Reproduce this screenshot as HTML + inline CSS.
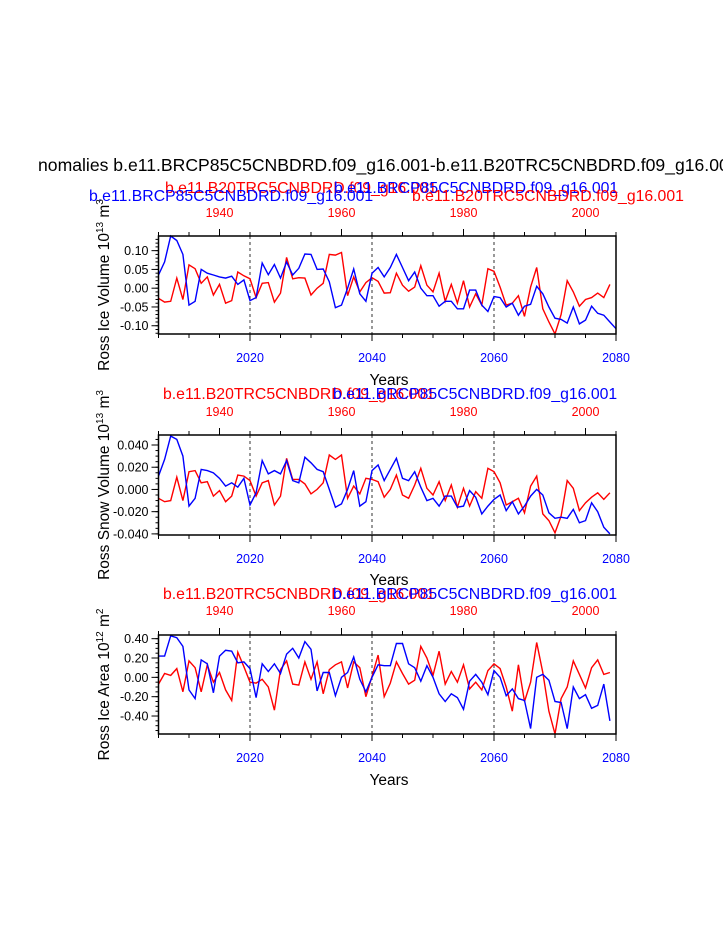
<!DOCTYPE html>
<html><head><meta charset="utf-8">
<style>
html,body{margin:0;padding:0;background:#fff;overflow:hidden;}
svg{display:block;font-family:"Liberation Sans",Arial,sans-serif;}
</style></head>
<body>
<svg id="chart" width="723" height="935" viewBox="0 0 723 935" xmlns="http://www.w3.org/2000/svg">
<text x="38" y="171" font-size="17.6" fill="#000">nomalies b.e11.BRCP85C5CNBDRD.f09_g16.001-b.e11.B20TRC5CNBDRD.f09_g16.001</text>
</svg>
<script>
const years = [2005, 2080];
const redYears = [1930, 2005];
const iceVolBlue = [0.035,0.07,0.139,0.127,0.09,-0.045,-0.035,0.05,0.04,0.035,0.03,0.027,0.032,0.01,0.022,-0.033,-0.025,0.067,0.036,0.063,0.027,0.07,0.035,0.053,0.091,0.09,0.05,0.051,0.017,-0.052,-0.045,0.0,0.051,-0.015,-0.035,0.04,0.055,0.03,0.055,0.09,0.055,0.02,0.043,0.0,-0.02,-0.02,-0.048,-0.035,-0.035,-0.055,-0.055,-0.005,-0.005,-0.045,-0.062,-0.022,-0.025,-0.05,-0.04,-0.072,-0.048,-0.043,0.005,-0.015,-0.05,-0.08,-0.083,-0.093,-0.05,-0.095,-0.085,-0.048,-0.067,-0.072,-0.09,-0.108];
const iceVolRed = [-0.027,-0.037,-0.035,0.027,-0.03,0.062,0.052,0.013,0.03,-0.018,0.01,-0.04,-0.033,0.043,0.033,0.025,-0.025,0.013,0.015,-0.037,-0.013,0.082,0.025,0.028,0.027,-0.018,0.0,0.013,0.09,0.088,0.095,-0.02,0.03,-0.01,0.015,0.028,0.018,-0.013,-0.012,0.04,0.008,-0.008,0.003,0.06,0.008,-0.01,0.04,-0.035,0.01,-0.04,0.02,-0.05,-0.015,-0.045,0.052,0.045,0.003,-0.045,-0.04,-0.02,-0.075,0.003,0.055,-0.055,-0.09,-0.125,-0.07,0.02,-0.01,-0.048,-0.03,-0.025,-0.013,-0.025,0.01];
const snowBlue = [0.012,0.027,0.048,0.045,0.03,-0.015,-0.008,0.018,0.017,0.015,0.01,0.003,0.006,0.002,0.01,-0.014,-0.003,0.026,0.014,0.017,0.014,0.026,0.008,0.006,0.029,0.024,0.018,0.016,0.0,-0.016,-0.013,0.0,0.017,-0.015,-0.011,0.017,0.022,0.008,0.018,0.028,0.01,0.008,0.016,0.002,-0.01,-0.008,-0.015,-0.006,-0.006,-0.016,-0.015,-0.001,-0.007,-0.022,-0.015,-0.009,-0.005,-0.019,-0.011,-0.022,-0.015,-0.006,0.0,-0.005,-0.021,-0.026,-0.025,-0.026,-0.018,-0.03,-0.028,-0.012,-0.02,-0.034,-0.04];
const snowRed = [-0.008,-0.011,-0.01,0.011,-0.01,0.016,0.017,0.006,0.007,-0.006,-0.001,-0.011,-0.006,0.013,0.012,0.008,-0.006,0.006,0.008,-0.014,-0.006,0.028,0.009,0.009,0.005,-0.004,0.0,0.006,0.031,0.027,0.031,-0.008,0.003,-0.004,0.01,0.009,0.007,-0.007,0.0,0.013,-0.005,-0.008,0.004,0.019,0.001,-0.005,0.007,-0.01,0.004,-0.016,0.001,-0.015,-0.002,-0.008,0.019,0.016,0.006,-0.014,-0.011,-0.008,-0.021,0.003,0.012,-0.022,-0.028,-0.039,-0.024,0.008,0.001,-0.019,-0.012,-0.007,-0.003,-0.009,-0.003];
const areaBlue = [0.22,0.22,0.43,0.41,0.32,-0.13,-0.22,0.18,0.14,-0.16,0.22,0.28,0.27,0.15,0.16,0.09,-0.21,0.14,0.06,0.14,0.04,0.24,0.3,0.2,0.37,0.29,-0.14,0.05,0.05,-0.19,0.0,0.05,0.21,-0.02,-0.15,0.0,0.13,0.12,0.12,0.35,0.35,0.14,0.1,-0.04,0.12,0.0,-0.17,-0.25,-0.17,-0.21,-0.33,-0.04,0.03,-0.05,-0.18,0.07,0.0,-0.19,-0.12,-0.22,-0.24,-0.53,0.0,0.03,-0.03,-0.25,-0.26,-0.53,-0.1,-0.22,-0.18,-0.32,-0.29,-0.07,-0.45];
const areaRed = [-0.07,0.04,0.02,0.09,-0.15,0.17,0.1,-0.15,0.13,-0.05,0.05,-0.13,-0.24,0.26,0.11,-0.05,-0.06,-0.02,-0.1,-0.34,0.08,0.17,-0.07,-0.08,0.16,-0.02,0.16,-0.17,0.08,0.13,0.16,-0.11,0.16,0.1,-0.2,0.01,0.23,-0.2,-0.06,0.16,0.04,-0.07,-0.03,0.32,0.2,0.02,0.27,-0.07,0.06,-0.05,0.13,-0.12,-0.05,-0.13,0.07,0.14,0.09,-0.1,-0.35,0.13,-0.25,-0.05,0.36,0.05,-0.35,-0.59,-0.22,-0.1,0.17,0.03,-0.11,0.1,0.18,0.03,0.05];
const bottomTicks = [2020, 2040, 2060, 2080];
const topTicks = [1940, 1960, 1980, 2000];
const volTicks = [0.10, 0.05, 0.00, -0.05, -0.10];
const snowTicks = [0.04, 0.02, 0.0, -0.02, -0.04];
const areaTicks = [0.4, 0.2, 0.0, -0.2, -0.4];

const svg = document.getElementById('chart');
const NS = 'http://www.w3.org/2000/svg';
function mk(tag, attrs, parent){const e=document.createElementNS(NS,tag);for(const k in attrs)e.setAttribute(k,attrs[k]);(parent||svg).appendChild(e);return e;}
const X0=158.5, X1=616;
function xB(y){return X0+(y-years[0])/(years[1]-years[0])*(X1-X0);}
function xR(y){return X0+(y-redYears[0])/(redYears[1]-redYears[0])*(X1-X0);}

const panels = [
 {top:236,bot:334,vmax:0.139,vmin:-0.122,blue:iceVolBlue,red:iceVolRed,ticks:volTicks,fmt:2,minor:0.01,name:'ice-volume',ytitle:'Ross Ice Volume 10',sup:'13',unit:' m',usup:'3',titleY:193,yt2:true,redLblY:217,botLblY:362,yearsY:385},
 {top:435,bot:535,vmax:0.049,vmin:-0.041,blue:snowBlue,red:snowRed,ticks:snowTicks,fmt:3,minor:0.005,name:'snow-volume',ytitle:'Ross Snow Volume 10',sup:'13',unit:' m',usup:'3',titleY:399,redLblY:416,botLblY:563,yearsY:585},
 {top:635,bot:734,vmax:0.438,vmin:-0.586,blue:areaBlue,red:areaRed,ticks:areaTicks,fmt:2,minor:0.05,name:'ice-area',ytitle:'Ross Ice Area 10',sup:'12',unit:' m',usup:'2',titleY:599,redLblY:615,botLblY:762,yearsY:785}
];

panels.forEach(function(p){
 const g=mk('g',{});
 
 
 const yS=v=>p.top+(p.vmax-v)/(p.vmax-p.vmin)*(p.bot-p.top);
 const FS=15.8;
 if(p.yt2){
  let t=mk('text',{x:165,y:p.titleY,'font-size':FS,fill:'#f00'},g);t.textContent='b.e11.B20TRC5CNBDRD.f09_g16.001';
  
  t=mk('text',{x:89,y:p.titleY+8,'font-size':FS,fill:'#00f'},g);t.textContent='b.e11.BRCP85C5CNBDRD.f09_g16.001';
  
  t=mk('text',{x:334,y:p.titleY,'font-size':FS,fill:'#00f'},g);t.textContent='b.e11.BRCP85C5CNBDRD.f09_g16.001';
  
  t=mk('text',{x:412,y:p.titleY+8,'font-size':FS,fill:'#f00'},g);t.textContent='b.e11.B20TRC5CNBDRD.f09_g16.001';
  
 } else {
  let t=mk('text',{x:163,y:p.titleY,'font-size':FS,fill:'#f00'},g);t.textContent='b.e11.B20TRC5CNBDRD.f09_g16.001';
  
  t=mk('text',{x:333,y:p.titleY,'font-size':FS,fill:'#00f'},g);t.textContent='b.e11.BRCP85C5CNBDRD.f09_g16.001';
  
 }
 [2020,2040,2060].forEach(function(y){
  const l=mk('line',{x1:xB(y),x2:xB(y),y1:p.top,y2:p.bot,stroke:'#000','stroke-width':0.8,'stroke-dasharray':'3,3'},g);
  
 });
 function line(arr,xf,start,col,nm){
  const pts=arr.map((v,i)=>xf(start+i).toFixed(1)+','+yS(Math.max(p.vmin,Math.min(p.vmax,v))).toFixed(1)).join(' ');
  const pl=mk('polyline',{points:pts,fill:'none',stroke:col,'stroke-width':1.4},g);
  
 }
 line(p.red,xR,redYears[0],'#f00','red-series-line');
 line(p.blue,xB,years[0],'#00f','blue-series-line');
 const r=mk('rect',{x:X0,y:p.top,width:X1-X0,height:p.bot-p.top,fill:'none',stroke:'#000','stroke-width':1.5},g);
 
 for(let y=2005;y<=2080;y+=5){const maj=y%20===0;mk('line',{x1:xB(y),x2:xB(y),y1:p.bot,y2:p.bot+(maj?7:4),stroke:'#000','stroke-width':1},g);}
 bottomTicks.forEach(function(y){const t=mk('text',{x:xB(y),y:p.botLblY,'font-size':12.5,fill:'#00f','text-anchor':'middle'},g);t.textContent=y;
  });
 for(let y=1930;y<=2005;y+=5){const maj=y%20===0;mk('line',{x1:xR(y),x2:xR(y),y1:p.top,y2:p.top-(maj?7:4),stroke:'#000','stroke-width':1},g);}
 topTicks.forEach(function(y){const t=mk('text',{x:xR(y),y:p.redLblY,'font-size':12.5,fill:'#f00','text-anchor':'middle'},g);t.textContent=y;
  });
 const n=Math.ceil((p.vmax-p.vmin)/p.minor)+2;
 for(let k=-n;k<=n;k++){const v=k*p.minor;if(v>p.vmax||v<p.vmin)continue;mk('line',{x1:X0,x2:X0-3,y1:yS(v),y2:yS(v),stroke:'#000','stroke-width':1},g);}
 p.ticks.forEach(function(v){
  mk('line',{x1:X0,x2:X0-7,y1:yS(v),y2:yS(v),stroke:'#000','stroke-width':1},g);
  const t=mk('text',{x:X0-10,y:yS(v)+4.5,'font-size':12.5,fill:'#000','text-anchor':'end'},g);t.textContent=v.toFixed(p.fmt);
  
 });
 const cy=(p.top+p.bot)/2;
 const yt=mk('text',{x:0,y:0,'font-size':15.5,fill:'#000','text-anchor':'middle',transform:'translate(109,'+cy+') rotate(-90)'},g);
 
 yt.appendChild(document.createTextNode(p.ytitle));
 let s=mk('tspan',{'font-size':10,dy:-6},yt);s.textContent=p.sup;
 s=mk('tspan',{dy:6},yt);s.textContent=p.unit;
 s=mk('tspan',{'font-size':10,dy:-6},yt);s.textContent=p.usup;
 const xt=mk('text',{x:389,y:p.yearsY,'font-size':15.5,fill:'#000','text-anchor':'middle'},g);xt.textContent='Years';
 
});
</script>
</body></html>
